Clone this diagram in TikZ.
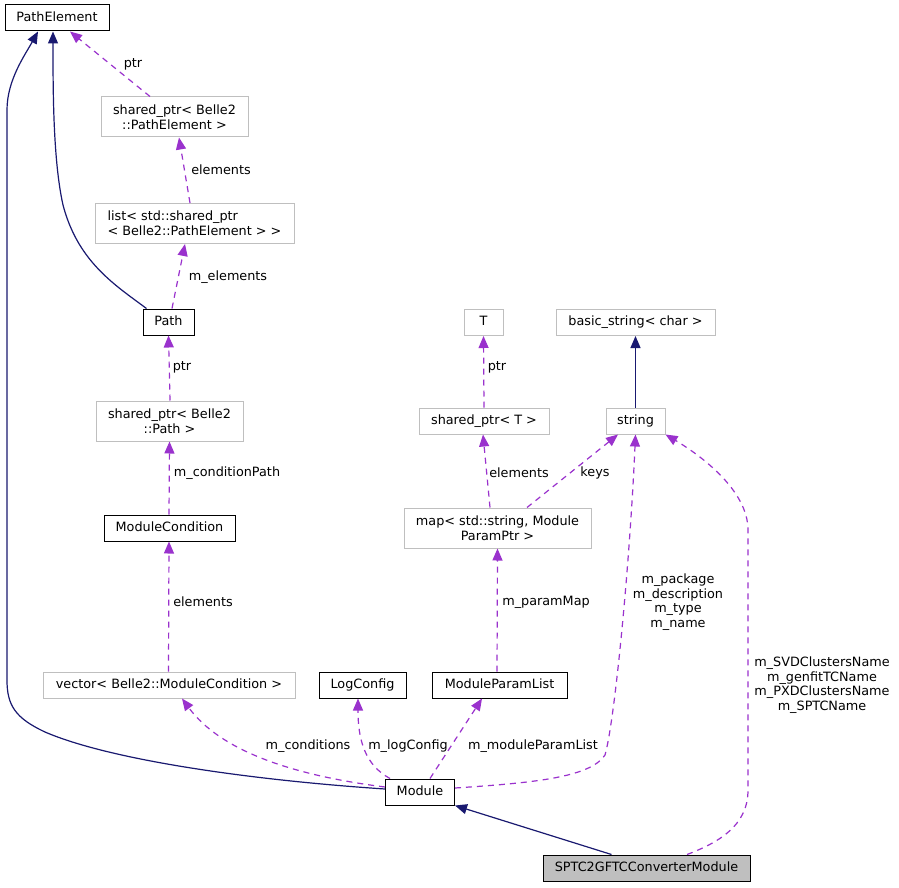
\documentclass[tikz,border=0pt]{standalone}
\usepackage{fontspec}
\setmainfont{DejaVu Sans}
\usetikzlibrary{arrows.meta,calc}
\definecolor{usecol}{HTML}{9A32CD}
\definecolor{inhcol}{HTML}{191970}
\definecolor{graybd}{HTML}{BFBFBF}
\begin{document}
\begin{tikzpicture}[x=1pt,y=-1pt,
  every node/.style={font=\fontsize{12.8}{15}\selectfont, inner sep=0pt},
  cls/.style={draw=black, line width=1pt, fill=white, minimum height=26pt, text height=9.5pt, text depth=2.7pt},
  ext/.style={cls, draw=graybd},
  cls2/.style={draw=black, line width=1pt, fill=white, minimum height=40pt, align=center},
  ext2/.style={cls2, draw=graybd},
  inh/.style={draw=inhcol, line width=1.2pt, -{Triangle[length=12pt,width=10pt]}},
  use/.style={draw=usecol, line width=1.2pt, dash pattern=on 6pt off 5pt, -{Triangle[length=12pt,width=10pt]}},
  lbl/.style={font=\fontsize{12.8}{14.5}\selectfont, align=center, inner sep=0pt}]
\useasboundingbox[fill=white] (0,0) rectangle (899,888);

% nodes
\node[cls, minimum width=104pt] (pe) at (57,18) {PathElement};
\node[ext2, minimum width=147pt] (spe) at (174.5,117) {shared\_ptr< Belle2\\::PathElement >};
\node[ext2, minimum width=199pt, align=left] (lst) at (194.5,223.5) {list< std::shared\_ptr\\< Belle2::PathElement > >};
\node[cls, minimum width=51pt] (path) at (168.5,322) {Path};
\node[ext2, minimum width=147pt] (spp) at (169.5,421) {shared\_ptr< Belle2\\::Path >};
\node[cls, minimum width=131pt] (mc) at (169.5,528) {ModuleCondition};
\node[ext, minimum width=252pt] (vec) at (169,685) {vector< Belle2::ModuleCondition >};
\node[cls, minimum width=87pt] (lc) at (362.5,685) {LogConfig};
\node[cls, minimum width=135pt] (mpl) at (499.5,685) {ModuleParamList};
\node[cls, minimum width=69pt] (mod) at (420,792) {Module};
\node[cls, minimum width=207pt, fill=graybd] (sptc) at (646.5,868) {SPTC2GFTCConverterModule};
\node[ext, minimum width=39pt] (T) at (483.5,322.5) {T};
\node[ext, minimum width=159pt] (bs) at (635.5,322.5) {basic\_string< char >};
\node[ext, minimum width=130pt] (spt) at (484,421) {shared\_ptr< T >};
\node[ext, minimum width=59pt] (str) at (635.5,421) {string};
\node[ext2, minimum width=187pt] (map) at (497.5,528) {map< std::string, Module\\ParamPtr >};

% inheritance
\draw[inh] ([xshift=4pt]path.north west) .. controls (115,285) and (78,262) .. (63,205)
  .. controls (53,160) and (53,90) .. ([xshift=-4pt]pe.south);
\draw[inh] ([yshift=3pt]mod.west) .. controls (250,780) and (110,760) .. (45,732)
  .. controls (15,718) and (7,705) .. (7,680) -- (7,110)
  .. controls (7,80) and (25,55) .. ([xshift=-19pt]pe.south);
\draw[inh] ([xshift=-35pt]sptc.north) -- (mod.south east);
\draw[inh] (str.north) -- (bs.south);

% usage
\draw[use] ([xshift=-24.5pt]spe.north) -- node[lbl, pos=0.5, xshift=23pt] (l1) {ptr} ([xshift=13pt]pe.south);
\draw[use] ([xshift=-4.5pt]lst.north) -- ([xshift=4.5pt]spe.south);
\node[lbl] (l2) at (221,170) {elements};
\draw[use] ([xshift=3.5pt]path.north) -- ([xshift=-9.5pt]lst.south);
\node[lbl] (l3) at (228,277) {m\_elements};
\draw[use] ([xshift=0.5pt]spp.north) -- (path.south);
\node[lbl] (l4) at (182,367) {ptr};
\draw[use] ([xshift=-0.5pt]mc.north) -- (spp.south);
\node[lbl] (l5) at (227,473) {m\_conditionPath};
\draw[use] ([xshift=-0.5pt]vec.north) -- ([xshift=-0.5pt]mc.south);
\node[lbl] (l6) at (203,602) {elements};
\draw[use] ([yshift=5pt]mod.west) .. controls (290,775) and (220,750) .. ([xshift=13pt]vec.south);
\node[lbl] (l7) at (308,746) {m\_conditions};
\draw[use] ([xshift=-30pt]mod.north) .. controls (365,765) and (358,740) .. ([xshift=-4.5pt]lc.south);
\node[lbl] (l8) at (408,746) {m\_logConfig};
\draw[use] ([xshift=-2.5pt]mpl.north) -- (map.south);
\node[lbl] (l10) at (546,602) {m\_paramMap};
\draw[use] ([xshift=10pt]mod.north) -- ([xshift=-17.5pt]mpl.south);
\node[lbl] (l9) at (533,746) {m\_moduleParamList};
\draw[use] ([xshift=-7.5pt]map.north) -- ([xshift=-1pt]spt.south);
\node[lbl] (l11) at (519,473) {elements};
\draw[use] ([xshift=29.5pt]map.north) -- ([xshift=-17.5pt]str.south);
\node[lbl] (l12) at (595,473) {keys};
\draw[use] (spt.north) -- (T.south);
\node[lbl] (l13) at (497,367) {ptr};
\draw[use] ([yshift=4pt]mod.east) .. controls (530,783) and (590,778) .. (605,755)
  .. controls (615,720) and (630,560) .. (str.south);
\node[lbl] (l14) at (678,602) {m\_package\\m\_description\\m\_type\\m\_name};
\draw[use] ([xshift=40.5pt]sptc.north) .. controls (720,842) and (748,825) .. (748,790)
  -- (748,530) .. controls (748,490) and (700,455) .. (str.south east);
\node[lbl] (l15) at (822,685) {m\_SVDClustersName\\m\_genfitTCName\\m\_PXDClustersName\\m\_SPTCName};
\end{tikzpicture}
\end{document}
